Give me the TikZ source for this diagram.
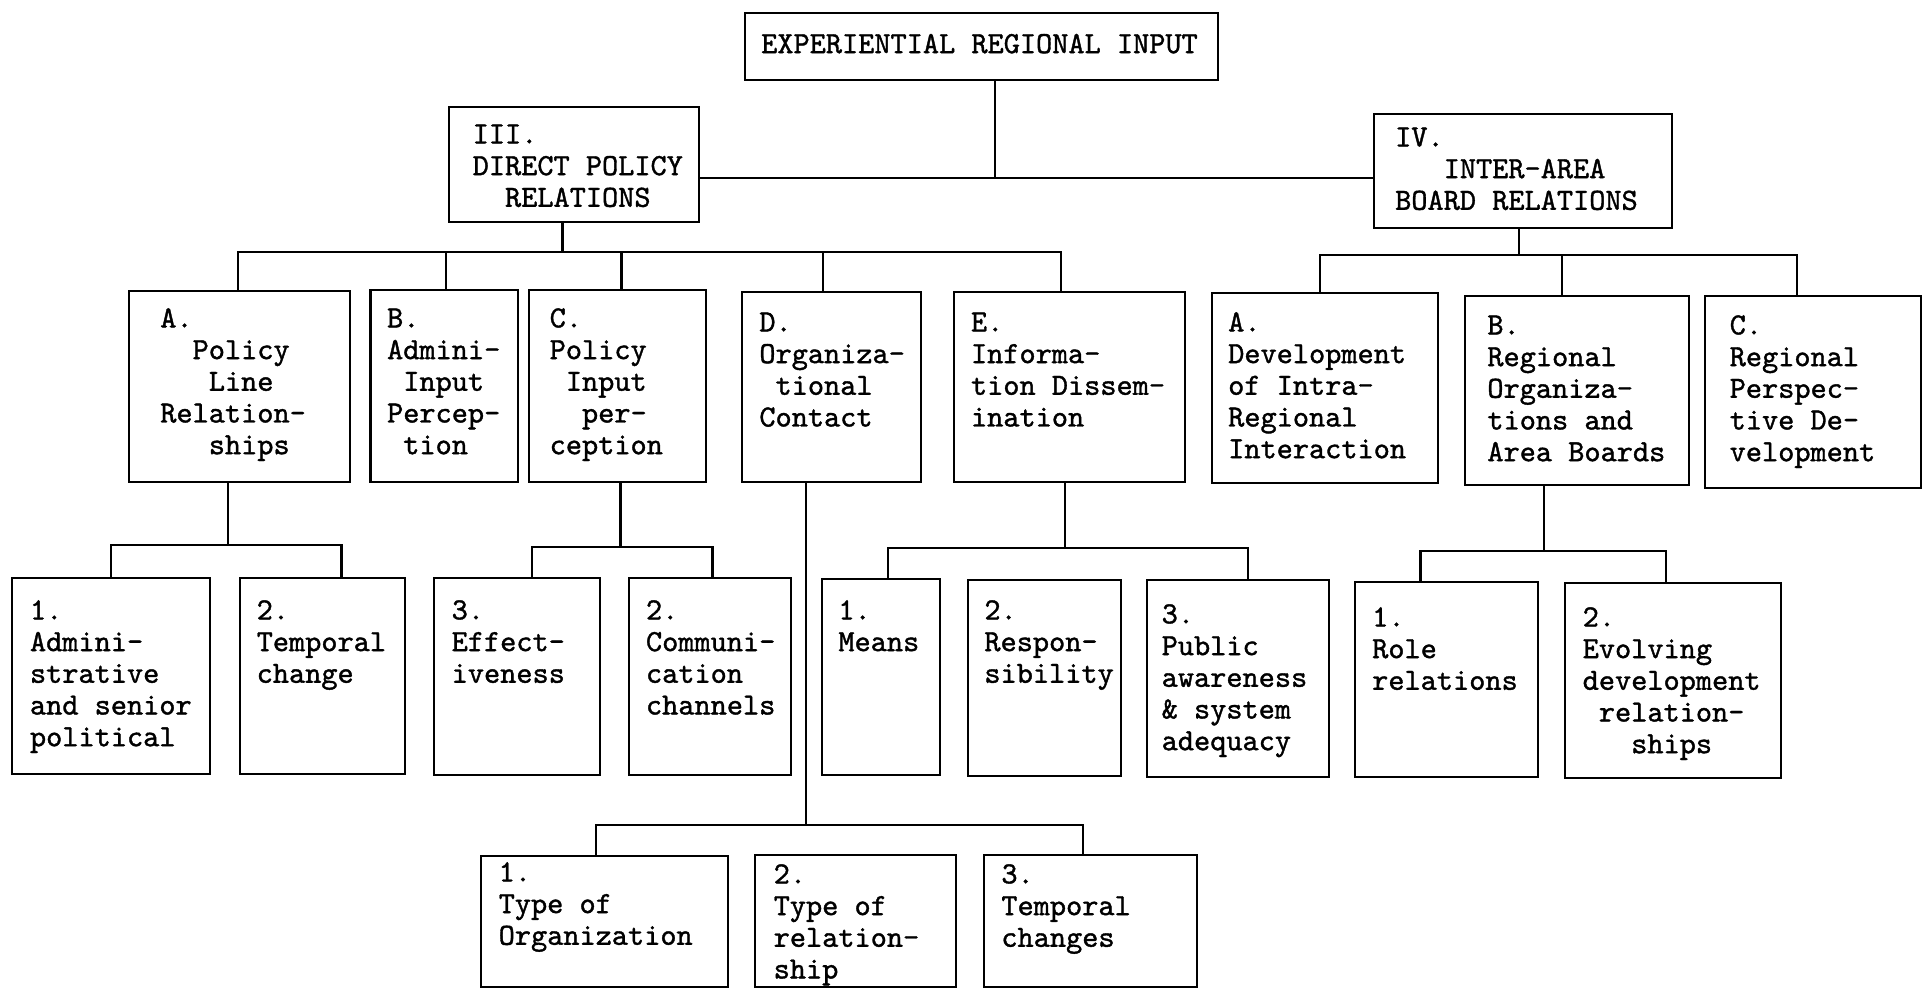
\documentclass[tikz,border=0pt]{standalone}
\usepackage{fontspec}
% typewriter face, slightly emboldened
\newfontfamily\tw{lmmono10-regular}[Extension=.otf,FakeBold=1.2]
% box: name, left, top, right, bottom, text x, first-line centre y, text
\newcommand\orgbox[8]{%
  \node[boxst, minimum width={#4-#2}, minimum height={#5-#3}] (#1) at ({(#2+#4)/2},{(#3+#5)/2}) {};
  \node[txt] (#1-t) at ({#6-1.5},{#7-16}) {\strut #8};
}
\newcommand\twsk[1]{\phantom{#1}}
\begin{document}
\begin{tikzpicture}[x=1pt,y=-1pt,
  boxst/.style={draw, line width=2.3pt, inner sep=0pt, outer sep=0pt},
  txt/.style={anchor=north west, inner sep=0pt, align=left,
              font=\tw\fontsize{30.8}{31.7}\selectfont},
  link/.style={line width=2.1pt}]
\useasboundingbox (0,0) rectangle (1923,989);

% top level
\orgbox{top}{745}{13}{1218}{80}{762.5}{46.7}{EXPERIENTIAL REGIONAL INPUT}
\orgbox{III}{449}{107}{699}{222}{474}{137}{III.\\DIRECT POLICY\\\twsk{XX}RELATIONS}
\orgbox{IV}{1374}{114}{1672}{228}{1396.5}{140}{IV.\\\twsk{XXX}INTER-AREA\\BOARD RELATIONS}

% second level under III
\orgbox{A}{129}{291}{350}{482}{161.6}{321}{A.\\\twsk{XX}Policy\\\twsk{XXX}Line\\Relation-\\\twsk{XXX}ships}
\orgbox{B}{370.5}{290}{518}{482}{388.4}{321}{B.\\Admini-\\\twsk{X}Input\\Percep-\\\twsk{X}tion}
\orgbox{C}{529}{290}{706}{482}{551}{321}{C.\\Policy\\\twsk{X}Input\\\twsk{XX}per-\\ception}
\orgbox{D}{742}{292}{921}{482}{760.7}{325}{D.\\Organiza-\\\twsk{X}tional\\Contact}
\orgbox{E}{954}{292}{1185}{482}{972.3}{325}{E.\\Informa-\\tion Dissem-\\ination}

% second level under IV
\orgbox{IVA}{1212}{293}{1438}{483}{1229.5}{325}{A.\\Development\\of Intra-\\Regional\\Interaction}
\orgbox{IVB}{1465}{296}{1689}{485}{1488.7}{328}{B.\\Regional\\Organiza-\\tions and\\Area Boards}
\orgbox{IVC}{1705}{296}{1921}{488}{1731}{328}{C.\\Regional\\Perspec-\\tive De-\\velopment}

% third level
\orgbox{A1}{12}{578}{210}{774}{31.3}{613}{1.\\Admini-\\strative\\and senior\\political}
\orgbox{A2}{240}{578}{405}{774}{258}{613}{2.\\Temporal\\change}
\orgbox{C3}{434}{578}{600}{775}{453}{613}{3.\\Effect-\\iveness}
\orgbox{C2}{629}{578}{791}{775}{647.3}{613}{2.\\Communi-\\cation\\channels}
\orgbox{E1}{822}{579}{940}{775}{839.7}{613}{1.\\Means}
\orgbox{E2}{968}{580}{1121}{776}{985.7}{613}{2.\\Respon-\\sibility}
\orgbox{E3}{1147}{580}{1329}{777}{1163}{617}{3.\\Public\\awareness\\\& system\\adequacy}
\orgbox{IVB1}{1355}{582}{1538}{777}{1373.5}{620}{1.\\Role\\relations}
\orgbox{IVB2}{1565}{583}{1781}{778}{1584}{620}{2.\\Evolving\\development\\\twsk{X}relation-\\\twsk{XXX}ships}

% fourth level under D
\orgbox{D1}{481}{856}{728}{987}{500}{875}{1.\\Type of\\Organization}
\orgbox{D2}{755}{855}{956}{987}{775}{877}{2.\\Type of\\relation-\\ship}
\orgbox{D3}{984}{855}{1197}{987}{1002.7}{877}{3.\\Temporal\\changes}

% junctions of the connector buses
\coordinate (jtop) at (995,178);
\coordinate (jIII) at (562.5,252);
\coordinate (jIV)  at (1519,255);
\coordinate (jA)   at (227.7,545);
\coordinate (jC)   at (620.5,547);
\coordinate (jE)   at (1065,548);
\coordinate (jIVB) at (1544,551);
\coordinate (jD)   at (806,825);

% connectors
\draw[link] (top.south -| jtop) -- (jtop);
\draw[link] (III.east |- jtop) -- (IV.west |- jtop);

\draw[link] (III.south -| jIII) -- (jIII);
\draw[link] ([xshift=-1.5pt]A.north) |- (jIII);
\draw[link] ([xshift=1.3pt]B.north) |- (jIII);
\draw[link] ([xshift=4pt]C.north) |- (jIII);
\draw[link] ([xshift=-8.5pt]D.north) |- (jIII);
\draw[link] ([xshift=-8.7pt]E.north) |- (jIII);

\draw[link] (IV.south -| jIV) -- (jIV);
\draw[link] ([xshift=-5pt]IVA.north) |- (jIV);
\draw[link] ([xshift=-15pt]IVB.north) |- (jIV);
\draw[link] ([xshift=-16pt]IVC.north) |- (jIV);

\draw[link] (A.south -| jA) -- (jA);
\draw[link] (A1.north) |- (jA);
\draw[link] ([xshift=19pt]A2.north) |- (jA);

\draw[link] (C.south -| jC) -- (jC);
\draw[link] ([xshift=15pt]C3.north) |- (jC);
\draw[link] ([xshift=2.5pt]C2.north) |- (jC);

\draw[link] (E.south -| jE) -- (jE);
\draw[link] ([xshift=7pt]E1.north) |- (jE);
\draw[link] ([xshift=10pt]E3.north) |- (jE);

\draw[link] (IVB.south -| jIVB) -- (jIVB);
\draw[link] ([xshift=-26pt]IVB1.north) |- (jIVB);
\draw[link] ([xshift=-7pt]IVB2.north) |- (jIVB);

\draw[link] (D.south -| jD) -- (jD);
\draw[link] ([xshift=-8.5pt]D1.north) |- (jD);
\draw[link] ([xshift=-7.5pt]D3.north) |- (jD);
\end{tikzpicture}
\end{document}
